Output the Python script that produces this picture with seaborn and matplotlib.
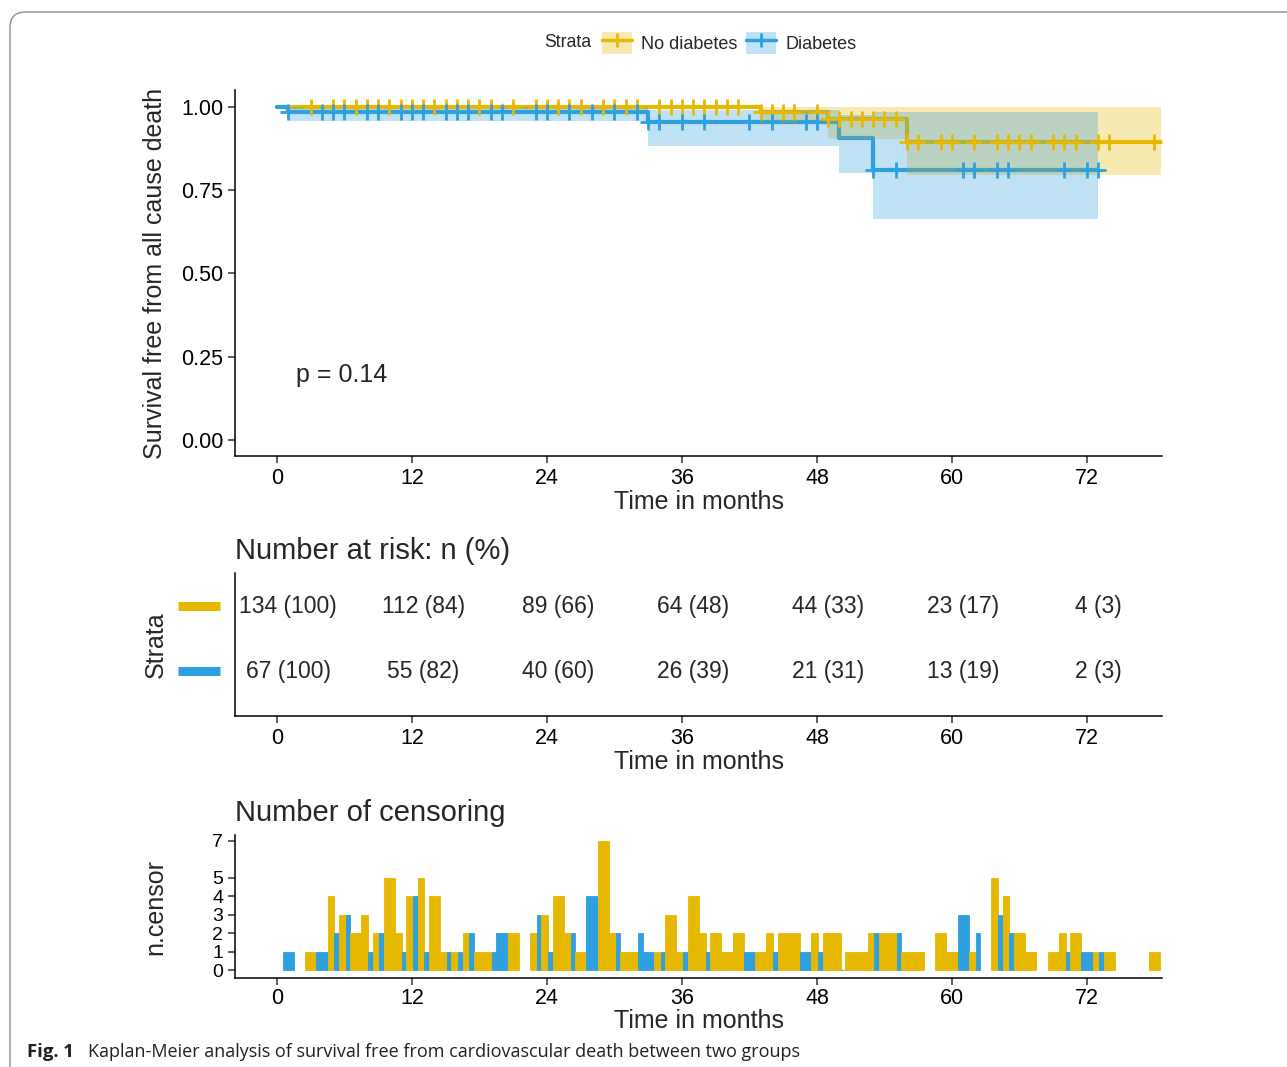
import numpy as np
import pandas as pd
import matplotlib
matplotlib.use("Agg")
import matplotlib.pyplot as plt
import matplotlib.transforms as mtransforms
from matplotlib.patches import Patch, FancyBboxPatch
from matplotlib.lines import Line2D
import seaborn as sns

# ---- data ----
groups = ["No diabetes", "Diabetes"]
palette = {"No diabetes": "#E7B800", "Diabetes": "#2E9FDF"}

# Kaplan-Meier steps (time in months, survival, 95% CI)
km_time_nodm = [0, 43, 49, 56]
km_surv_nodm = [1.0, 0.984, 0.962, 0.893]
km_low_nodm = [1.0, 0.950, 0.902, 0.795]
km_up_nodm = [1.0, 1.0, 1.0, 1.0]
km_end_nodm = 78.6

km_time_dm = [0, 1, 33, 50, 53]
km_surv_dm = [1.0, 0.985, 0.953, 0.905, 0.810]
km_low_dm = [1.0, 0.957, 0.882, 0.800, 0.664]
km_up_dm = [1.0, 1.0, 0.990, 0.975, 0.985]
km_end_dm = 73.0

# number censored per month
cens_month_nodm = [3, 5, 6, 7, 8, 9, 10, 11, 12, 13, 14, 15, 16, 17, 18, 19, 21, 23, 24, 25,
                   26, 27, 29, 30, 31, 32, 34, 35, 36, 37, 38, 39, 40, 41, 43, 44, 45, 46, 48, 49,
                   50, 51, 52, 53, 54, 55, 56, 57, 59, 60, 62, 64, 65, 66, 67, 69, 70, 71, 73, 74, 78]
cens_count_nodm = [1, 4, 3, 2, 3, 2, 5, 2, 4, 5, 4, 1, 1, 2, 1, 1, 2, 2, 3, 4,
                   2, 1, 7, 2, 1, 1, 1, 3, 1, 4, 2, 2, 1, 2, 1, 2, 2, 2, 2, 2,
                   2, 1, 1, 2, 2, 2, 1, 1, 2, 1, 1, 5, 4, 2, 1, 1, 2, 2, 1, 1, 1]
cens_month_dm = [1, 4, 5, 6, 8, 9, 11, 12, 13, 15, 16, 17, 19, 20, 23, 24, 26, 28, 30, 32,
                 33, 34, 36, 38, 42, 44, 47, 48, 50, 53, 55, 61, 62, 64, 65, 70, 72, 73]
cens_count_dm = [1, 1, 2, 3, 1, 2, 1, 4, 1, 1, 1, 2, 1, 2, 3, 1, 2, 4, 2, 2,
                 1, 1, 1, 1, 1, 1, 1, 1, 0, 2, 2, 3, 2, 3, 2, 1, 1, 1]

# number at risk table
risk_times = [0, 12, 24, 36, 48, 60, 72]
risk_nodm = ["134 (100)", "112 (84)", "89 (66)", "64 (48)", "44 (33)", "23 (17)", "4 (3)"]
risk_dm = ["67 (100)", "55 (82)", "40 (60)", "26 (39)", "21 (31)", "13 (19)", "2 (3)"]

p_label = "p = 0.14"
caption_bold = "Fig. 1"
caption = "Kaplan-Meier analysis of survival free from cardiovascular death between two groups"

km = {
    "No diabetes": (km_time_nodm, km_surv_nodm, km_low_nodm, km_up_nodm, km_end_nodm,
                    cens_month_nodm, cens_count_nodm),
    "Diabetes": (km_time_dm, km_surv_dm, km_low_dm, km_up_dm, km_end_dm,
                 cens_month_dm, cens_count_dm),
}

# ---- style ----
sns.set_theme(style="ticks")
plt.rcParams["font.family"] = ["Liberation Sans", "DejaVu Sans"]
plt.rcParams["axes.linewidth"] = 1.1
plt.rcParams["xtick.major.width"] = 1.1
plt.rcParams["ytick.major.width"] = 1.1
plt.rcParams["xtick.color"] = "#333333"
plt.rcParams["ytick.color"] = "#333333"

fig = plt.figure(figsize=(12.87, 10.67), dpi=100)
xlim = (-3.73, 78.67)
xt = [0, 12, 24, 36, 48, 60, 72]

ax_km = fig.add_axes([0.1826, 0.5726, 0.7203, 0.343])
ax_risk = fig.add_axes([0.1826, 0.329, 0.7203, 0.134])
ax_cens = fig.add_axes([0.1826, 0.0834, 0.7203, 0.134])

# ---- survival curves ----
for g in groups:
    t, s, lo, up, tend, cm, cc = km[g]
    df = pd.DataFrame({"time": list(t) + [tend], "surv": list(s) + [s[-1]]})
    sns.lineplot(data=df, x="time", y="surv", ax=ax_km, color=palette[g], lw=3,
                 drawstyle="steps-post", zorder=2)
for g in groups:
    t, s, lo, up, tend, cm, cc = km[g]
    tt = list(t) + [tend]
    ax_km.fill_between(tt, list(lo) + [lo[-1]], list(up) + [up[-1]], step="post",
                       color=palette[g], alpha=0.3, lw=0, zorder=3)
for g in groups:
    t, s, lo, up, tend, cm, cc = km[g]
    mt = [m for m, c in zip(cm, cc) if c > 0]
    idx = np.searchsorted(t, mt, side="right") - 1
    ax_km.plot(mt, np.array(s)[idx], ls="none", marker="+", ms=11, mew=2,
               color=palette[g], zorder=4)

ax_km.text(1.7, 0.195, p_label, fontsize=18, va="center", ha="left")
ax_km.set_xlim(*xlim)
ax_km.set_ylim(-0.048, 1.05)
ax_km.set_xticks(xt)
ax_km.set_yticks([0, 0.25, 0.5, 0.75, 1.0])
ax_km.set_yticklabels(["0.00", "0.25", "0.50", "0.75", "1.00"])
ax_km.set_xlabel("Time in months", fontsize=18, labelpad=1)
ax_km.set_ylabel("Survival free from all cause death", fontsize=18)

# ---- risk table ----
for row, (g, vals) in enumerate([("Diabetes", risk_dm), ("No diabetes", risk_nodm)]):
    for t, v in zip(risk_times, vals):
        ax_risk.annotate(v, (t, row), xytext=(8, 0), textcoords="offset points",
                         ha="center", va="center", fontsize=16.5)
    trans = mtransforms.blended_transform_factory(ax_risk.transAxes, ax_risk.transData)
    ax_risk.plot([-0.0615, -0.0162], [row, row], transform=trans, clip_on=False,
                 color=palette[g], lw=6.5, solid_capstyle="butt")
ax_risk.set_xlim(*xlim)
ax_risk.set_ylim(-0.69, 1.51)
ax_risk.set_xticks(xt)
ax_risk.set_yticks([])
ax_risk.set_xlabel("Time in months", fontsize=18, labelpad=1)
ax_risk.set_ylabel("Strata", fontsize=18)
ax_risk.set_title("Number at risk: n (%)", loc="left", fontsize=21, pad=10)

# ---- censoring bars ----
both = set(cens_month_nodm) & set(cens_month_dm)
rows = []
for g in groups:
    cm, cc = km[g][5], km[g][6]
    for m, c in zip(cm, cc):
        if m in both:
            left, right = (m - 0.5, m + 0.1) if g == "No diabetes" else (m + 0.1, m + 0.5)
        else:
            left, right = m - 0.5, m + 0.5
        rows.append((left, right - left, c, g))
bars = pd.DataFrame(rows, columns=["left", "width", "count", "group"]).sort_values("left")
for _, r in bars.iterrows():
    ax_cens.bar(r["left"], r["count"], width=r["width"], align="edge",
                color=palette[r["group"]], edgecolor=palette[r["group"]], lw=0.6)
ax_cens.set_xlim(*xlim)
ax_cens.set_ylim(-0.43, 7.3)
ax_cens.set_xticks(xt)
ax_cens.set_yticks([0, 1, 2, 3, 4, 5, 7])
ax_cens.set_xlabel("Time in months", fontsize=18, labelpad=0)
ax_cens.set_ylabel("n.censor", fontsize=18)
ax_cens.set_title("Number of censoring", loc="left", fontsize=21, pad=10)

for ax in (ax_km, ax_risk, ax_cens):
    sns.despine(ax=ax)
    ax.spines["left"].set_color("black")
    ax.spines["bottom"].set_color("black")
    ax.tick_params(axis="x", labelsize=15.5, length=5, labelcolor="black")
    ax.tick_params(axis="y", labelsize=15.5, length=5, labelcolor="black")
    ax.yaxis.set_label_coords(-0.073, 0.5)
ax_cens.tick_params(axis="y", labelsize=14)
ax_cens.tick_params(axis="x", pad=2)
ax_risk.tick_params(axis="y", length=0)

# ---- legend ----
fig.text(568 / 1287, 0.96, "Strata", ha="center", va="center", fontsize=12.7)
handles = [(Patch(fc=palette[g], alpha=0.3, ec="none"),
            Line2D([0], [0], color=palette[g], lw=2.5, marker="+", ms=10, mew=2))
           for g in groups]
fig.legend(handles, groups, loc="center left", bbox_to_anchor=(586 / 1287, 0.96), ncol=2,
           frameon=False, fontsize=13, handlelength=1.65, handleheight=1.5,
           columnspacing=0.5, handletextpad=0.5)

# ---- frame and caption ----
frame = FancyBboxPatch((10 / 1287, -0.05), 1.1, 1.05 - 12 / 1067,
                       boxstyle="round,pad=0,rounding_size=0.012", mutation_aspect=1287 / 1067,
                       transform=fig.transFigure, fc="none", ec="#8c8c8c", lw=1)
fig.patches.append(frame)
fig.text(27 / 1287, 1 - 1052 / 1067, caption_bold, fontsize=13.3, fontweight="bold",
         family=["Open Sans", "DejaVu Sans"], va="center", color="#231f20")
fig.text(88 / 1287, 1 - 1052 / 1067, caption, fontsize=13,
         family=["Open Sans", "DejaVu Sans"], va="center", color="#231f20")

fig.savefig("out.png", dpi=100)
